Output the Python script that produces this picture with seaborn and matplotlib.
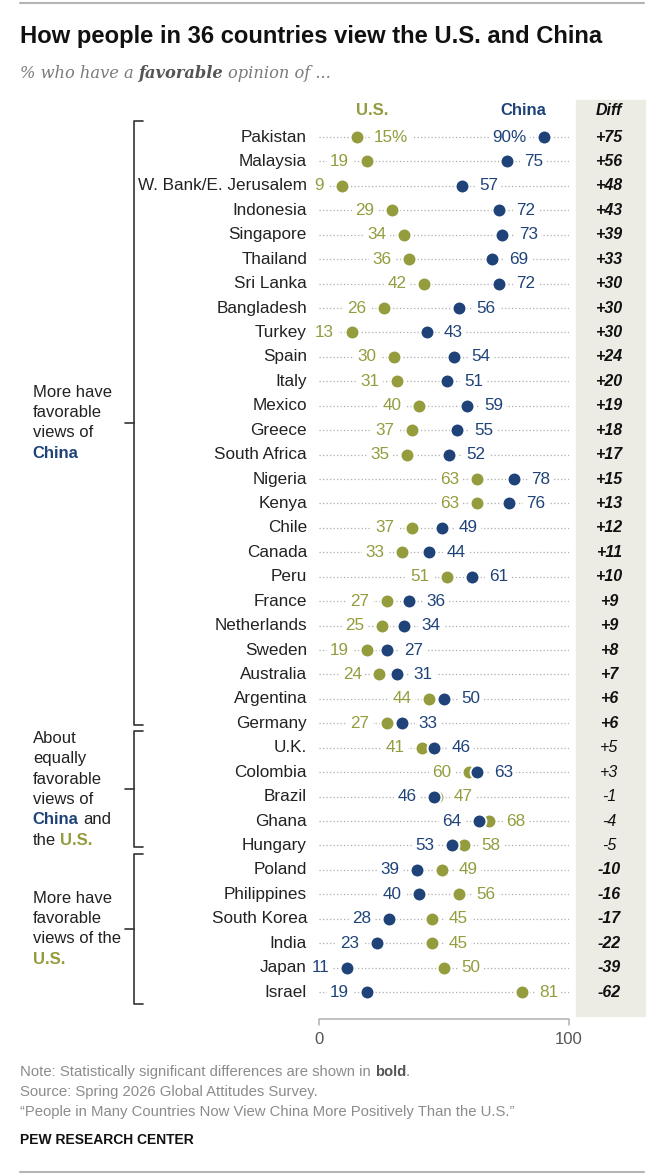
import numpy as np
import pandas as pd
import matplotlib.pyplot as plt
import seaborn as sns

# data
countries = ["Pakistan", "Malaysia", "W. Bank/E. Jerusalem", "Indonesia", "Singapore",
             "Thailand", "Sri Lanka", "Bangladesh", "Turkey", "Spain", "Italy", "Mexico",
             "Greece", "South Africa", "Nigeria", "Kenya", "Chile", "Canada", "Peru",
             "France", "Netherlands", "Sweden", "Australia", "Argentina", "Germany",
             "U.K.", "Colombia", "Brazil", "Ghana", "Hungary", "Poland", "Philippines",
             "South Korea", "India", "Japan", "Israel"]
us_fav = [15, 19, 9, 29, 34, 36, 42, 26, 13, 30, 31, 40, 37, 35, 63, 63, 37, 33, 51,
          27, 25, 19, 24, 44, 27, 41, 60, 47, 68, 58, 49, 56, 45, 45, 50, 81]
china_fav = [90, 75, 57, 72, 73, 69, 72, 56, 43, 54, 51, 59, 55, 52, 78, 76, 49, 44, 61,
             36, 34, 27, 31, 50, 33, 46, 63, 46, 64, 53, 39, 40, 28, 23, 11, 19]
diff_labels = ["+75", "+56", "+48", "+43", "+39", "+33", "+30", "+30", "+30", "+24",
               "+20", "+19", "+18", "+17", "+15", "+13", "+12", "+11", "+10", "+9",
               "+9", "+8", "+7", "+6", "+6", "+5", "+3", "-1", "-4", "-5", "-10",
               "-16", "-17", "-22", "-39", "-62"]
not_significant = ["U.K.", "Colombia", "Brazil", "Ghana", "Hungary"]

# groups: first row, last row, text lines (segments: text, kind)
group_rows = [(0, 24), (25, 29), (30, 35)]
group_text = [
    [[("More have", "")], [("favorable", "")], [("views of", "")], [("China", "china")]],
    [[("About", "")], [("equally", "")], [("favorable", "")], [("views of", "")],
     [("China", "china"), ("and", "")], [("the", ""), ("U.S.", "us")]],
    [[("More have", "")], [("favorable", "")], [("views of the", "")], [("U.S.", "us")]],
]

US_COLOR = "#949c3e"
CN_COLOR = "#1f4379"
TXT = "#222222"

sns.set_style("white")
plt.rcParams['font.family'] = ['Liberation Sans', 'DejaVu Sans']

df = pd.DataFrame({'country': countries, 'us': us_fav, 'china': china_fav, 'diff': diff_labels})
df['row'] = np.arange(len(df))

W, H = 654, 1176
fig = plt.figure(figsize=(W / 100, H / 100), dpi=100)

# background axes in pixel units for titles / notes
bg = fig.add_axes([0, 0, 1, 1], zorder=0)
bg.set_xlim(0, W)
bg.set_ylim(H, 0)
bg.axis('off')

# main axes: x 0..100 maps to pixels 319..569, rows spaced 24.43 px
ROW0, STEP = 137, 24.43
ax = fig.add_axes([319 / W, 1 - 1016 / H, 250 / W, 916 / H], zorder=1)
ax.axis('off')

# dotted guide lines
ax.hlines(df['row'], 0, 100, colors='#adadad', linestyles=(0, (1, 1.8)), lw=0.9, zorder=1)

# Diff column background
ax.axvspan(102.8, 130.4, color='#ecebe4', zorder=0, clip_on=False)

# dots
sns.scatterplot(data=df, x='us', y='row', color=US_COLOR, s=100, edgecolor='white',
                linewidth=1.4, zorder=4, ax=ax, legend=False)
sns.scatterplot(data=df, x='china', y='row', color=CN_COLOR, s=100, edgecolor='white',
                linewidth=1.4, zorder=5, ax=ax, legend=False)

ax.set_xlim(0, 100)
ax.set_ylim((1016 - ROW0) / STEP, (100 - ROW0) / STEP)
ax.axis('off')

FS = 12.3
lab_kw = dict(textcoords='offset points', va='center', fontsize=FS, zorder=3,
              annotation_clip=False,
              bbox=dict(fc='white', ec='none', pad=2.4))
OFF = 12.5
for r in df.itertuples():
    first = r.row == 0
    sfx = "%" if first else ""
    lo_left = -OFF if not first else OFF
    hi_right = OFF if not first else -OFF
    if r.us < r.china:
        us_off, cn_off = lo_left, hi_right
    else:
        us_off, cn_off = hi_right, lo_left
    ax.annotate(f"{r.us}{sfx}", (r.us, r.row), xytext=(us_off, 0),
                ha='left' if us_off > 0 else 'right', color=US_COLOR, **lab_kw)
    ax.annotate(f"{r.china}{sfx}", (r.china, r.row), xytext=(cn_off, 0),
                ha='left' if cn_off > 0 else 'right', color=CN_COLOR, **lab_kw)

    ax.text(-4.8, r.row, r.country, ha='right', va='center', fontsize=FS, color=TXT)
    sig = r.country not in not_significant
    ax.text(116, r.row, r.diff, ha='center', va='center', fontsize=11.5, style='italic',
            fontweight='bold' if sig else 'normal', color='#111111', clip_on=False)

# column headers
hy = (110.5 - ROW0) / STEP
ax.text(21.2, hy, "U.S.", color=US_COLOR, fontweight='bold', fontsize=12, ha='center', va='center')
ax.text(81.6, hy, "China", color=CN_COLOR, fontweight='bold', fontsize=12, ha='center', va='center')
ax.text(116, hy, "Diff", color='#111111', fontweight='bold', style='italic', fontsize=11.5,
        ha='center', va='center')

# x axis bracket
ya, yt = (1019 - ROW0) / STEP, (1025 - ROW0) / STEP
ax.plot([0, 0, 100, 100], [yt, ya, ya, yt], color='#b0b0b0', lw=1.1, clip_on=False)
for v in (0, 100):
    ax.text(v, (1040 - ROW0) / STEP, str(v), ha='center', va='center', fontsize=12, color='#555555')

# group brackets and text
bx, hook, tick = -74, -70.4, -77.6
LINE = 20.3 / STEP
kind_style = {"": dict(color=TXT), "china": dict(color=CN_COLOR, fontweight='bold'),
              "us": dict(color=US_COLOR, fontweight='bold')}
for gi, ((a, b), lines) in enumerate(zip(group_rows, group_text)):
    top = a - 0.67
    bot = b + (0.49 if gi == len(group_rows) - 1 else 0.07)
    mid = (top + bot) / 2
    ax.plot([hook, bx, bx, hook], [top, top, bot, bot], color='#333333', lw=1.2, clip_on=False)
    ax.plot([bx, tick], [mid, mid], color='#333333', lw=1.2, clip_on=False)
    y0 = mid - LINE * (len(lines) - 1) / 2
    for li, segs in enumerate(lines):
        y = y0 + li * LINE
        prev = ax.text(-114.5, y, segs[0][0], ha='left', va='center', fontsize=12,
                       **kind_style[segs[0][1]])
        for txt, kind in segs[1:]:
            prev = ax.annotate(txt, xy=(1, y), xycoords=(prev, 'data'), xytext=(3.3, 0),
                               textcoords='offset points', ha='left', va='center',
                               fontsize=12, annotation_clip=False, **kind_style[kind])

# title and subtitle
bg.text(20, 37, "How people in 36 countries view the U.S. and China", fontsize=17.1,
        fontweight='bold', color='#111111', va='center', ha='left')
sub_kw = dict(family=['DejaVu Serif'], style='italic', fontsize=11.7, va='center', ha='left')
t = bg.text(20, 73, "% who have a", color='#7a7a7a', **sub_kw)
t = bg.annotate("favorable", xy=(1, 73), xycoords=(t, 'data'), xytext=(3.5, 0),
                textcoords='offset points', color='#555555', fontweight='bold', **sub_kw)
bg.annotate("opinion of ...", xy=(1, 73), xycoords=(t, 'data'), xytext=(3.5, 0),
            textcoords='offset points', color='#7a7a7a', **sub_kw)

# notes
note_kw = dict(fontsize=10.7, va='center', ha='left')
t = bg.text(20, 1072, "Note: Statistically significant differences are shown in",
            color='#8c8c8c', **note_kw)
t = bg.annotate("bold", xy=(1, 1072), xycoords=(t, 'data'), xytext=(2.9, 0),
                textcoords='offset points', color='#555555', fontweight='bold', **note_kw)
bg.annotate(".", xy=(1, 1072), xycoords=(t, 'data'), xytext=(0, 0),
            textcoords='offset points', color='#8c8c8c', **note_kw)
bg.text(20, 1092, "Source: Spring 2026 Global Attitudes Survey.", color='#8c8c8c', **note_kw)
bg.text(20, 1112, "\u201cPeople in Many Countries Now View China More Positively Than the U.S.\u201d",
        color='#8c8c8c', **note_kw)
bg.text(20, 1140, "PEW RESEARCH CENTER", fontsize=10, fontweight='bold',
        color='#111111', va='center', ha='left')

# rules
bg.plot([20, 644], [3, 3], color='#b5b5b5', lw=1.5)
bg.plot([20, 644], [1172, 1172], color='#b5b5b5', lw=1.5)

fig.savefig('out.png', dpi=100, facecolor='white')
